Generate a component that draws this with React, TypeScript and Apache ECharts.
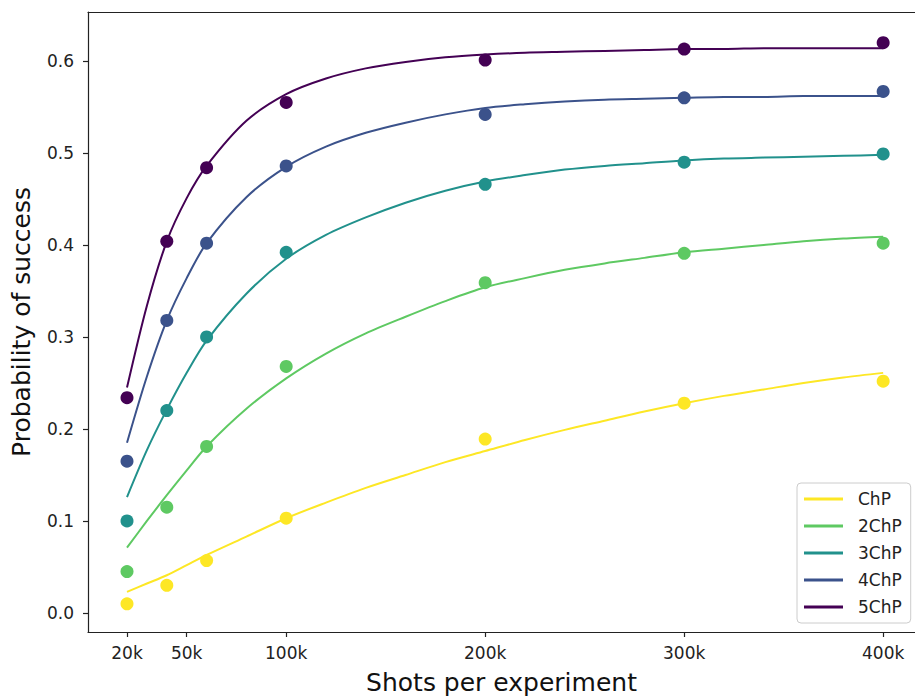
import React, { useEffect, useRef } from "react";
import * as echarts from "echarts";

const seriesNames = ["ChP", "2ChP", "3ChP", "4ChP", "5ChP"];
const colors = ["#fde725", "#5ec962", "#21918c", "#3b528b", "#440154"];

// measured shots (thousands)
const shotsK = [20, 40, 60, 100, 200, 300, 400];
const pointsChP = [0.010, 0.030, 0.057, 0.103, 0.189, 0.228, 0.252];
const points2ChP = [0.045, 0.115, 0.181, 0.268, 0.359, 0.391, 0.402];
const points3ChP = [0.100, 0.220, 0.300, 0.392, 0.466, 0.490, 0.499];
const points4ChP = [0.165, 0.318, 0.402, 0.486, 0.542, 0.560, 0.567];
const points5ChP = [0.234, 0.404, 0.484, 0.555, 0.601, 0.613, 0.620];

// fitted curves (thousands of shots)
const curveK = [20, 30, 40, 50, 60, 80, 100, 120, 140, 160, 180, 200, 220, 240, 260, 280, 300, 320, 340, 360, 380, 400];
const curveChP = [0.023, 0.032, 0.041, 0.052, 0.063, 0.083, 0.103, 0.120, 0.136, 0.150, 0.164, 0.176, 0.188, 0.199, 0.209, 0.219, 0.228, 0.236, 0.243, 0.250, 0.256, 0.261];
const curve2ChP = [0.071, 0.100, 0.128, 0.155, 0.181, 0.222, 0.255, 0.282, 0.304, 0.322, 0.339, 0.354, 0.364, 0.373, 0.380, 0.386, 0.392, 0.396, 0.400, 0.404, 0.407, 0.409];
const curve3ChP = [0.126, 0.177, 0.221, 0.261, 0.296, 0.347, 0.385, 0.411, 0.430, 0.446, 0.459, 0.469, 0.476, 0.482, 0.486, 0.489, 0.492, 0.494, 0.495, 0.496, 0.497, 0.498];
const curve4ChP = [0.185, 0.257, 0.318, 0.364, 0.402, 0.452, 0.485, 0.507, 0.522, 0.533, 0.542, 0.549, 0.553, 0.556, 0.558, 0.559, 0.560, 0.561, 0.561, 0.562, 0.562, 0.562];
const curve5ChP = [0.245, 0.334, 0.404, 0.451, 0.486, 0.535, 0.564, 0.581, 0.592, 0.599, 0.604, 0.607, 0.609, 0.610, 0.611, 0.612, 0.613, 0.613, 0.614, 0.614, 0.614, 0.614];

const xTicksK = [20, 50, 100, 200, 300, 400];
const yTicks = [0, 0.1, 0.2, 0.3, 0.4, 0.5, 0.6];

const allPoints = [pointsChP, points2ChP, points3ChP, points4ChP, points5ChP];
const allCurves = [curveChP, curve2ChP, curve3ChP, curve4ChP, curve5ChP];

const FONT = "DejaVu Sans";

export default function App() {
  const ref = useRef<HTMLDivElement>(null);
  useEffect(() => {
    if (!ref.current) return;
    const chart = echarts.init(ref.current, null, { renderer: "svg" });
    const xMin = 0.4;
    const xMax = 416;
    const yMin = -0.0207;
    const yMax = 0.6533;
    const lineSeries = seriesNames.map((name, i) => ({
      name,
      type: "line",
      xAxisIndex: 0,
      yAxisIndex: 0,
      data: curveK.map((x, j) => [x, allCurves[i][j]]),
      smooth: 0.3,
      showSymbol: false,
      symbol: "none",
      lineStyle: { color: colors[i], width: 2 },
      itemStyle: { color: colors[i] },
      z: 2,
    }));
    const scatterSeries = seriesNames.map((name, i) => ({
      name: name + " data",
      type: "scatter",
      xAxisIndex: 0,
      yAxisIndex: 0,
      data: shotsK.map((x, j) => [x, allPoints[i][j]]),
      symbolSize: 13,
      itemStyle: { color: colors[i], opacity: 1 },
      z: 3,
    }));
    chart.setOption({
      animation: false,
      backgroundColor: "#ffffff",
      textStyle: { fontFamily: FONT },
      grid: { left: 88, top: 12, right: 0, bottom: 64, containLabel: false, outerBoundsMode: "none" },
      legend: {
        data: seriesNames,
        orient: "vertical",
        left: 797,
        top: 483,
        icon: "rect",
        itemWidth: 39,
        itemHeight: 3,
        itemGap: 9,
        padding: [7, 9, 7, 7],
        backgroundColor: "rgba(255,255,255,0.8)",
        borderColor: "#cccccc",
        borderWidth: 1,
        borderRadius: 4,
        selectedMode: false,
        textStyle: {
          fontFamily: FONT,
          fontSize: 17,
          color: "#222",
          lineHeight: 18,
          padding: [0, 0, 0, 10],
        },
      },
      xAxis: [
        {
          type: "value",
          min: xMin,
          max: xMax,
          position: "bottom",
          splitLine: { show: false },
          axisLine: { show: true, onZero: false, lineStyle: { color: "#222", width: 1.2 } },
          axisTick: { show: true, length: 5, customValues: xTicksK, lineStyle: { color: "#222", width: 1.2 } },
          axisLabel: {
            customValues: xTicksK,
            formatter: (v: number) => `${Math.round(v)}k`,
            fontFamily: FONT,
            fontSize: 17,
            color: "#222",
            margin: 12,
          },
          name: "Shots per experiment",
          nameLocation: "middle",
          nameGap: 38,
          nameTextStyle: { fontFamily: FONT, fontSize: 25, color: "#111" },
        },
        {
          type: "value",
          min: xMin,
          max: xMax,
          position: "top",
          splitLine: { show: false },
          axisLine: { show: true, onZero: false, lineStyle: { color: "#222", width: 1.2 } },
          axisTick: { show: false },
          axisLabel: { show: false },
        },
      ],
      yAxis: {
        type: "value",
        min: yMin,
        max: yMax,
        splitLine: { show: false },
        axisLine: { show: true, onZero: false, lineStyle: { color: "#222", width: 1.2 } },
        axisTick: { show: true, length: 5, customValues: yTicks, lineStyle: { color: "#222", width: 1.2 } },
        axisLabel: {
          customValues: yTicks,
          formatter: (v: number) => v.toFixed(1),
          fontFamily: FONT,
          fontSize: 17,
          color: "#222",
          margin: 14,
        },
        name: "Probability of success",
        nameLocation: "middle",
        nameGap: 54,
        nameTextStyle: { fontFamily: FONT, fontSize: 25, color: "#111" },
      },
      series: [...lineSeries, ...scatterSeries],
    });
    return () => chart.dispose();
  }, []);
  return (
    <div
      ref={ref}
      style={{ position: "absolute", left: 0, top: 0, width: 915, height: 696 }}
    />
  );
}
